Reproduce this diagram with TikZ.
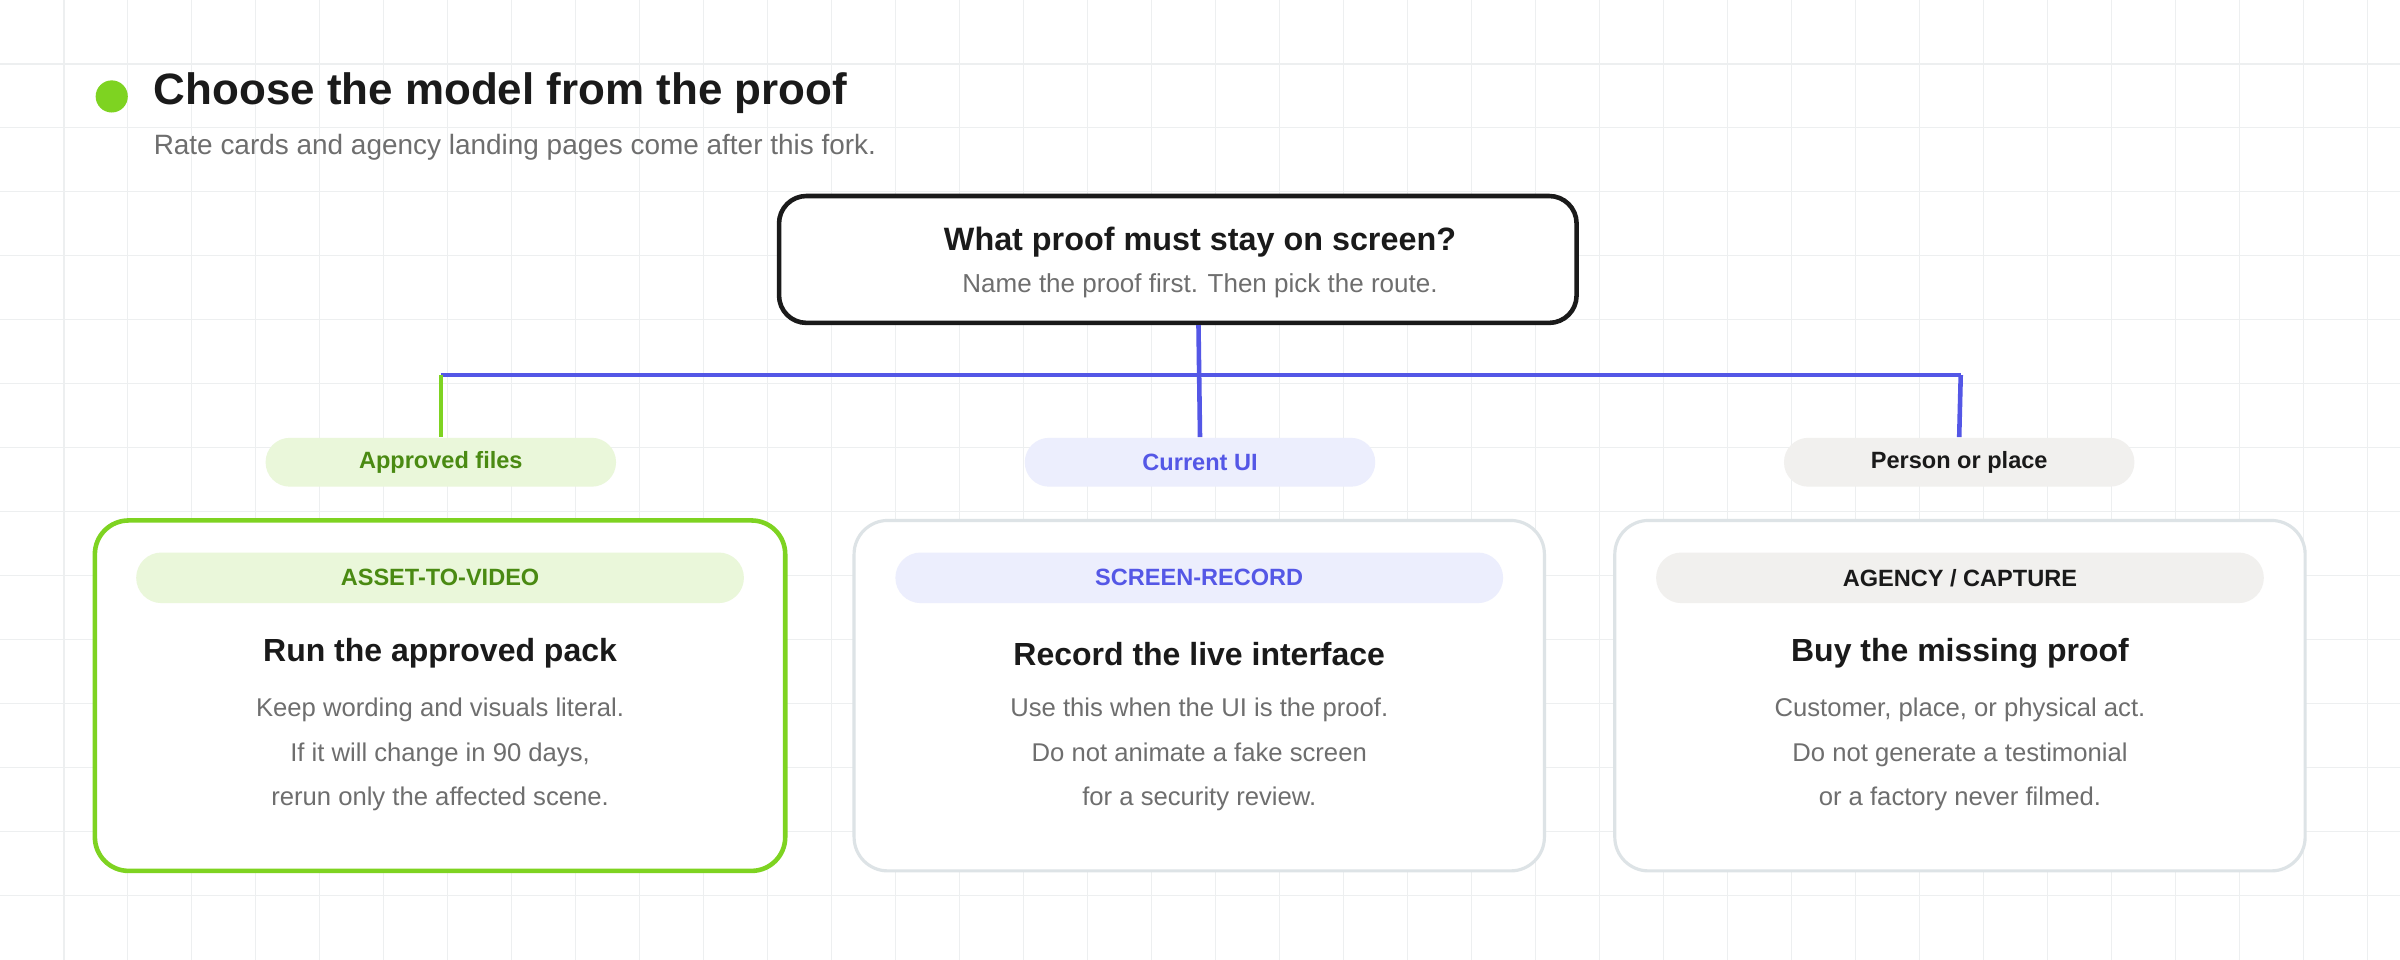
\documentclass[tikz,border=0pt]{standalone}
\usepackage{fontspec}
\setmainfont{Liberation Sans}
\usetikzlibrary{positioning}
\definecolor{inkA}{HTML}{1A1A1A}
\definecolor{mutedA}{HTML}{6E6E6E}
\definecolor{greenA}{HTML}{7ED321}
\definecolor{greenT}{HTML}{4A8A12}
\definecolor{greenL}{HTML}{EAF7DA}
\definecolor{blueA}{HTML}{5457E6}
\definecolor{blueL}{HTML}{ECEEFD}
\definecolor{greyL}{HTML}{F1F0EE}
\definecolor{borderA}{HTML}{DDE3E6}
\definecolor{gridA}{HTML}{EDEFF0}
\tikzset{
  question/.style = {draw=inkA, line width=1.3pt, rounded corners=7.8pt, fill=white,
                     minimum width=226.9pt, minimum height=36.1pt},
  card/.style     = {draw=borderA, line width=0.9pt, rounded corners=9.6pt, fill=white,
                     minimum width=196.4pt, minimum height=99.7pt},
  pick/.style     = {card, draw=greenA, line width=1.3pt},
  pill/.style     = {rounded corners=6.9pt, minimum width=99.7pt, minimum height=13.9pt,
                     font=\fontsize{6.7}{8}\selectfont\bfseries},
  tag/.style      = {rounded corners=7.2pt, minimum width=172.9pt, minimum height=14.4pt,
                     font=\fontsize{6.7}{8}\selectfont\bfseries},
  heading/.style  = {font=\fontsize{9.1}{11}\selectfont\bfseries, text=inkA},
  body/.style     = {font=\fontsize{7.3}{12.6}\selectfont, text=mutedA, align=center},
  branch/.style   = {line width=1.3pt, blueA}
}
\begin{document}
\begin{tikzpicture}[x=0.01531cm, y=-0.01531cm]
  \useasboundingbox[fill=white] (0,0) rectangle (1568,627);
  % background grid
  \foreach \gx in {41.8,83.6,...,1568} \draw[gridA, line width=0.3pt] (\gx,0) -- (\gx,627);
  \foreach \gy in {41.8,83.6,...,627} \draw[gridA, line width=0.3pt] (0,\gy) -- (1568,\gy);

  % header
  \fill[greenA] (73,63) circle (10.5);
  \node[anchor=west, inner sep=0pt, font=\fontsize{12.5}{14}\selectfont\bfseries, text=inkA] (title) at (100,61)
    {Choose the model from the proof};
  \node[anchor=west, inner sep=0pt, font=\fontsize{7.95}{9}\selectfont, text=mutedA] (sub) at (100,96)
    {Rate cards and agency landing pages come after this fork.};

  % question
  \node[question] (ask) at (769.5,169.5) {};
  \node[font=\fontsize{9.2}{10}\selectfont\bfseries, text=inkA] at (784,158)
    {What proof must stay on screen?};
  \node[font=\fontsize{7.4}{8}\selectfont, text=mutedA] at (784,187)
    {Name the proof first. Then pick the route.};

  % branch labels
  \node[pill, fill=greenL, text=greenT] (files) at (288,302) {Approved files};
  \node[pill, fill=blueL, text=blueA]   (ui)    at (784,302) {Current UI};
  \node[pill, fill=greyL, text=inkA]    (place) at (1280,302) {Person or place};

  % connectors
  \coordinate (forkL) at (288,245);
  \coordinate (forkR) at (1281,245);
  \draw[branch] (forkL) -- (forkR);
  \draw[branch] (ask.south -| 783,0) -- (ui.north);
  \draw[branch, greenA] (forkL) -- (files.north);
  \draw[branch] (forkR) -- (place.north);

  % cards
  \node[pick] (asset)  at (287.5,454.5) {};
  \node[card] (screen) at (783.5,454.5) {};
  \node[card] (agency) at (1280.5,454.5) {};

  \node[tag, fill=greenL, text=greenT] at (287.5,377.5) {ASSET-TO-VIDEO};
  \node[heading] at (287.5,427) {Run the approved pack};
  \node[body] at (287.5,493) {Keep wording and visuals literal.\\If it will change in 90 days,\\rerun only the affected scene.};

  \node[tag, fill=blueL, text=blueA] at (783.5,377.5) {SCREEN-RECORD};
  \node[heading] at (783.5,427) {Record the live interface};
  \node[body] at (783.5,493) {Use this when the UI is the proof.\\Do not animate a fake screen\\for a security review.};

  \node[tag, fill=greyL, text=inkA] at (1280.5,377.5) {AGENCY / CAPTURE};
  \node[heading] at (1280.5,427) {Buy the missing proof};
  \node[body] at (1280.5,493) {Customer, place, or physical act.\\Do not generate a testimonial\\or a factory never filmed.};
\end{tikzpicture}
\end{document}
